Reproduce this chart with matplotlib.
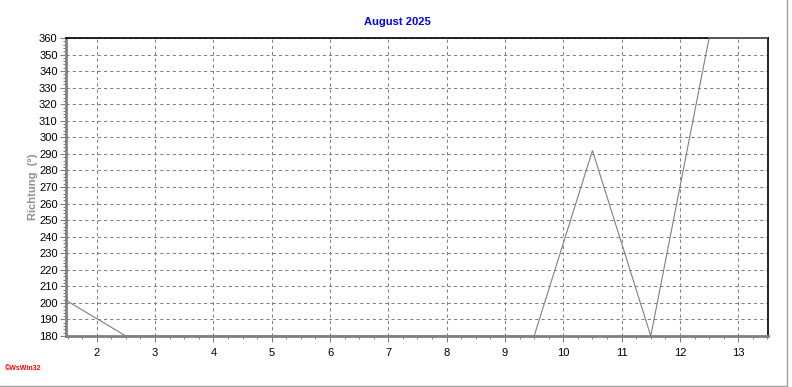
import numpy as np
import matplotlib.pyplot as plt
import matplotlib.transforms as mtransforms
from matplotlib.lines import Line2D

plt.rcParams['font.family'] = ['Liberation Sans', 'DejaVu Sans']

# wind direction, one value per day (plotted at midday)
days = [1.5, 2.5, 3.5, 4.5, 5.5, 6.5, 7.5, 8.5, 9.5, 10.5, 11.5, 12.5, 13.5]
richtung = [201, 180, 180, 180, 180, 180, 180, 180, 180, 292, 180, 360, 360]
day_labels = ['2', '3', '4', '5', '6', '7', '8', '9', '10', '11', '12', '13']
y_ticks = list(range(180, 361, 10))

fig = plt.figure(figsize=(7.92, 3.87), dpi=100)
ax = fig.add_axes([66/792, 1-336/387, (768-66)/792, (336-38)/387])

ax.plot(days, richtung, color='#808080', lw=0.8, zorder=3, clip_on=False)

ax.set_xlim(1.473, 13.51)
ax.set_ylim(180, 360)

major_x = np.arange(2, 14)
ax.set_xticks(major_x)
ax.set_xticklabels(day_labels)
ax.set_xticks(np.arange(1.5, 13.6, 0.25), minor=True)
ax.set_yticks(y_ticks)
ax.set_yticks(np.arange(180, 361, 2), minor=True)

# day labels sit a little left of the grid line
offset = mtransforms.ScaledTranslation(-9/100, 0, fig.dpi_scale_trans)
for lab in ax.get_xticklabels():
    lab.set_transform(lab.get_transform() + offset)

ax.grid(True, which='major', color='#808080', lw=0.75, linestyle=(0, (3, 3)))
ax.tick_params(axis='both', which='major', labelsize=8, length=4, width=0.8,
               color='#808080', direction='out', pad=2)
ax.tick_params(axis='both', which='minor', length=2, width=0.7, color='#808080')
ax.tick_params(axis='x', which='major', pad=5)

for s in ['left', 'bottom']:
    ax.spines[s].set_color('#808080')
    ax.spines[s].set_linewidth(2)
for s in ['top', 'right']:
    ax.spines[s].set_color('black')
    ax.spines[s].set_linewidth(1.2)

fig.text(397/792, 1-22/387, 'August 2025', color='#0000ff', fontsize=8,
         fontweight='bold', ha='center', va='center')
fig.text(33/792, 1-187/387, 'Richtung  (°)', color='#909090', fontsize=8,
         fontweight='bold', rotation=90, ha='center', va='center')
fig.text(5/792, 1-368/387, '©WsWin32', color='red', fontsize=5,
         fontweight='bold', ha='left', va='center')

# outer frame lines (right and bottom)
fig.add_artist(Line2D([787/792, 787/792], [1-386/387, 1], color='#a0a0a0',
                      lw=1, transform=fig.transFigure))
fig.add_artist(Line2D([0, 787/792], [1-386/387, 1-386/387], color='#a0a0a0',
                      lw=1, transform=fig.transFigure))

fig.savefig('out.png', dpi=100)
